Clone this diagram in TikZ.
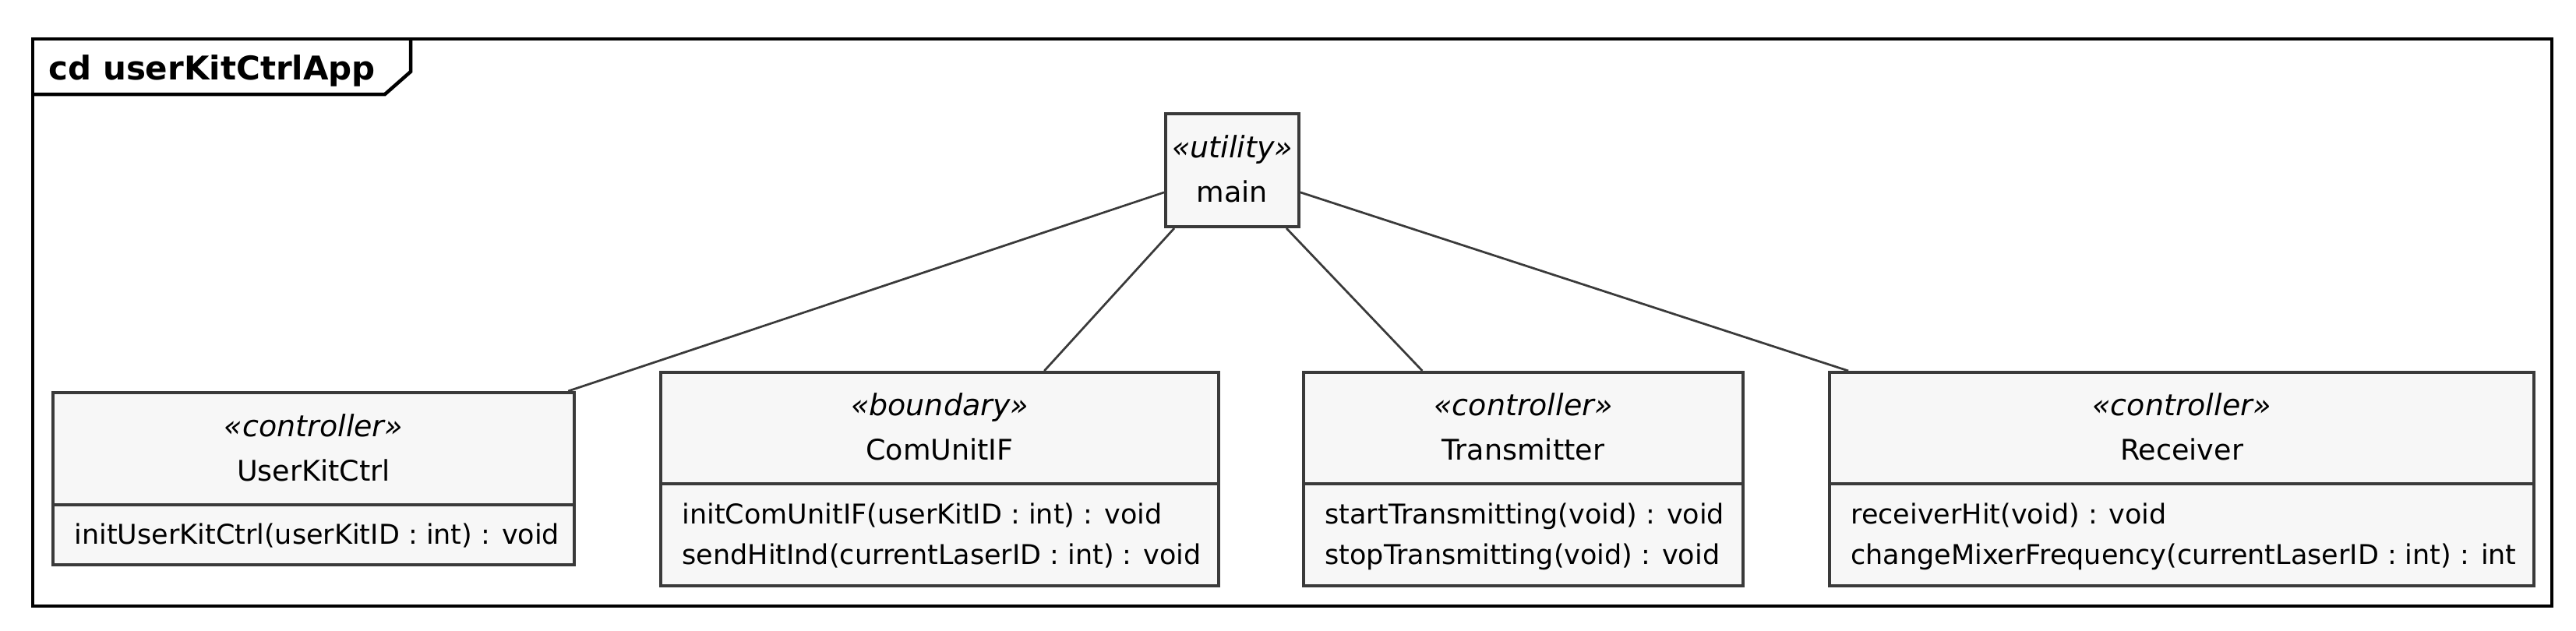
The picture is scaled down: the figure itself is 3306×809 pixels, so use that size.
\documentclass[tikz,border=0pt]{standalone}
\usepackage{fontspec}
\setmainfont{DejaVu Sans}
\definecolor{boxfill}{HTML}{F7F7F7}
\definecolor{boxline}{HTML}{3A3A3A}
\begin{document}
\begin{tikzpicture}[x=0.4pt,y=-0.4pt,
  cls/.style={draw=boxline, fill=boxfill, line width=1.6pt, inner sep=0pt, rectangle},
  txt/.style={inner sep=0pt, font=\fontsize{14}{16}\selectfont},
  st/.style={inner sep=0pt, font=\fontsize{15.2}{17}\selectfont\itshape, anchor=base},
  nm/.style={inner sep=0pt, font=\fontsize{14.6}{16}\selectfont, anchor=base},
  op/.style={txt, anchor=base west},
  link/.style={draw=boxline, line width=1.1pt},
  sep/.style={draw=boxline, line width=1.6pt},
  frameline/.style={draw=black, line width=1.8pt}]
\useasboundingbox (0,0) rectangle (3306,809);
% frame
\draw[frameline] (42,50) rectangle (3275,778);
\draw[frameline] (42,121) -- (494,121) -- (527,92) -- (527,50);
\node[anchor=base west, inner sep=0pt, font=\fontsize{16.8}{18}\selectfont\bfseries] (title) at (62,102) {cd userKitCtrlApp};
% boxes
\node[cls, minimum width=68.4pt, minimum height=58pt] (main) at (1581.5,218.5) {};
\node[cls, minimum width=267.6pt, minimum height=88.4pt] (uk) at (402.5,614.5) {};
\node[cls, minimum width=286.4pt, minimum height=109.6pt] (cu) at (1206,615) {};
\node[cls, minimum width=225.6pt, minimum height=109.6pt] (tr) at (1955,615) {};
\node[cls, minimum width=361.6pt, minimum height=109.6pt] (rc) at (2800,615) {};
% dividers
\coordinate (d1) at (0,648);
\coordinate (d2) at (0,621);
\draw[sep] (uk.west |- d1) -- (uk.east |- d1);
\draw[sep] (cu.west |- d2) -- (cu.east |- d2);
\draw[sep] (tr.west |- d2) -- (tr.east |- d2);
\draw[sep] (rc.west |- d2) -- (rc.east |- d2);
% texts
\node[st] (mainst) at (1581.5,202) {«utility»};
\node[nm] (mainnm) at (1581.5,259) {main};
\node[st] (ukst) at (402.5,560) {«controller»};
\node[nm] (uknm) at (402.5,617) {UserKitCtrl};
\node[op] (ukop1) at (95,698) {initUserKitCtrl(userKitID : int) : void};
\node[st] (cust) at (1206,533) {«boundary»};
\node[nm] (cunm) at (1206,590) {ComUnitIF};
\node[op] (cuop1) at (875,672) {initComUnitIF(userKitID : int) : void};
\node[op] (cuop2) at (875,724) {sendHitInd(currentLaserID : int) : void};
\node[st] (trst) at (1955,533) {«controller»};
\node[nm] (trnm) at (1955,590) {Transmitter};
\node[op] (trop1) at (1700,672) {startTransmitting(void) : void};
\node[op] (trop2) at (1700,724) {stopTransmitting(void) : void};
\node[st] (rcst) at (2800,533) {«controller»};
\node[nm] (rcnm) at (2800,590) {Receiver};
\node[op] (rcop1) at (2375,672) {receiverHit(void) : void};
\node[op] (rcop2) at (2375,724) {changeMixerFrequency(currentLaserID : int) : int};
% links
\draw[link] (main.198.43) -- (uk.19.19);
\draw[link] (main.225.4) -- (cu.46.94);
\draw[link] (main.-47.05) -- (tr.133.5);
\draw[link] (main.-18.43) -- (rc.162.06);
\end{tikzpicture}
\end{document}
